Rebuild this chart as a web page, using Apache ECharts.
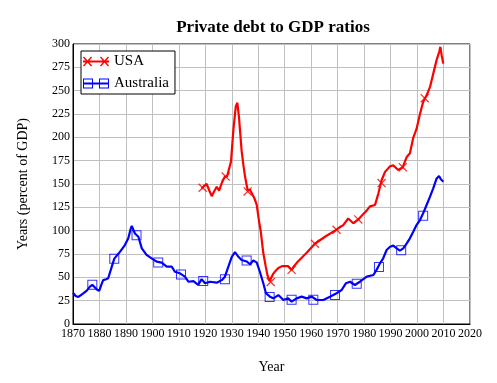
<!DOCTYPE html>
<html><head><meta charset="utf-8">
<script src="https://cdn.jsdelivr.net/npm/echarts@6/dist/echarts.min.js"></script>
<style>html,body{margin:0;padding:0;background:#fff}#c{width:497px;height:383px}</style>
</head><body><div id="c"></div>
<script>
const titleText = 'Private debt to GDP ratios';
const xTicks = [1870, 2020, 10];
const yTicks = [0, 300, 25];
const usa = [[1918.6,145],[1919.5,148],[1920.5,150],[1921.5,143],[1922.4,137],[1923.3,142],[1924.3,147],[1925.2,143],[1926.2,151],[1927.4,158],[1928.2,158],[1928.9,160],[1929.7,174],[1930.6,208],[1931.5,233],[1932.1,237],[1932.7,222],[1933.7,186],[1934.4,170],[1935,158],[1936,143],[1936.8,144],[1937.5,143],[1938.5,135],[1939.4,128],[1940.3,110],[1940.9,100],[1941.9,76],[1942.8,62],[1943.5,52],[1944.3,46],[1944.8,46],[1945.7,54],[1946.6,57],[1947.6,60],[1949,62],[1950,62],[1951.2,62],[1952.6,58],[1953.5,62],[1955,67],[1958.2,76],[1961.4,86],[1965.2,93.5],[1969,100],[1970.5,103],[1972.1,106],[1974,113],[1975.9,108],[1977.8,112],[1979.7,118],[1980.5,120],[1982.2,126],[1984.1,127.5],[1985.4,140],[1986.6,154],[1987.9,163],[1989.8,169],[1991,170],[1992.9,165],[1994.6,168],[1996.1,179],[1997.3,183],[1998.6,200],[1999.8,209],[2001.1,225],[2002.3,238],[2003.6,245],[2004.9,254],[2006.1,268],[2007.4,283],[2008.4,292],[2008.8,297],[2009.3,288],[2009.9,279]];
const australia = [[1870,33.5],[1871,30],[1872,29],[1873,31],[1874,33],[1875.2,35.7],[1876.4,40],[1877.3,42],[1878,41],[1879,37],[1879.9,35.5],[1880.7,42],[1881.4,47],[1882.5,48],[1883.3,49],[1884.6,61],[1885.6,70],[1886.3,72],[1887.8,77.5],[1889.6,84.6],[1890.9,91.8],[1891.8,102],[1892.2,105],[1893.4,97],[1894.7,93.5],[1896,81],[1897.8,74],[1899.7,70.4],[1901.6,66.8],[1903.5,65.7],[1905.4,61.4],[1907.3,61.4],[1908.5,56],[1910.4,54.3],[1912.3,50.7],[1913.6,45.3],[1915.5,46],[1917.3,42],[1918.6,48],[1919.9,43.6],[1921.8,45.3],[1924.3,44.3],[1926.2,47],[1927.4,50.7],[1928.7,61.4],[1930,72],[1931.2,77],[1932.5,72],[1933.7,68.6],[1935.6,67],[1936.9,64],[1938.1,68],[1939.4,66],[1940.6,56],[1941.9,43.6],[1942.9,33],[1944.4,29.3],[1945.7,27.5],[1947.6,31],[1949.5,25.7],[1951.3,27.5],[1952.6,24],[1954.5,27.5],[1956.4,29.3],[1958.3,27.5],[1960.2,29.3],[1962.1,25.7],[1964.6,25.7],[1967.1,29.3],[1969.6,33],[1971.5,36.4],[1973.1,43.6],[1974.7,45.3],[1976.5,41.8],[1978.4,45.3],[1981,50.7],[1983.5,52.5],[1984.7,58],[1986,65],[1987.2,70.4],[1988.5,79.3],[1989.8,82.8],[1991,84],[1992.3,81],[1993.5,78.6],[1994.8,81],[1996.1,86.4],[1997.3,91.8],[1998.6,99],[1999.8,106],[2001.1,111.4],[2002.3,118.6],[2003.6,127.5],[2004.9,136.4],[2006.1,145.4],[2007.4,156],[2008.3,158.6],[2009,155],[2009.9,152.5]];
const usaMarkers = [[1919,146],[1927.7,158],[1936,142],[1944.7,45],[1952.6,58],[1961.4,86],[1969.6,101],[1977.8,112],[1986.6,151],[1994.6,168],[2002.9,242]];
const ausMarkers = [[1877.3,42],[1885.6,70],[1894,95],[1902.2,66],[1910.8,53],[1919.2,46],[1927.4,48],[1935.6,68],[1944.3,29],[1952.6,26],[1960.8,26],[1969,31],[1977.2,43],[1985.6,61],[1994,79],[2002.3,116]];

const FONT = '"Liberation Serif","Times New Roman",serif';
const xPath = 'path://M0,1L1,0L10,9L9,10Z M9,0L10,1L1,10L0,9Z';
const sqPath = 'path://M0,0H10V1H0Z M0,9H10V10H0Z M0,0H1V10H0Z M9,0H10V10H9Z';
const usaIcon = 'path://M0,4H26V6H0Z M0,1L1,0L9,9L8,10Z M8,0L9,1L1,10L0,9Z M17,1L18,0L26,9L25,10Z M25,0L26,1L18,10L17,9Z';
const ausIcon = 'path://M0,4H26V6H0Z M0,0H10V1H0Z M0,9H10V10H0Z M0,0H1V10H0Z M9,0H10V10H9Z M16,0H26V1H16Z M16,9H26V10H16Z M16,0H17V10H16Z M25,0H26V10H25Z';

const chart = echarts.init(document.getElementById('c'));
chart.setOption({
  animation: false,
  backgroundColor: '#fff',
  title: { text: titleText, left: 268, textAlign: 'center', top: 14,
    textStyle: { fontFamily: FONT, fontSize: 17, fontWeight: 'bold', color: '#000' } },
  grid: { left: 73, right: 27, top: 44, bottom: 59, show: true, borderColor: '#000', borderWidth: 1, backgroundColor: 'transparent' },
  legend: {
    data: [{ name: 'USA', icon: usaIcon }, { name: 'Australia', icon: ausIcon }],
    orient: 'vertical', left: 81, top: 51, itemWidth: 26, itemHeight: 10, itemGap: 7,
    padding: [3, 6, 3, 2], borderColor: '#000', borderWidth: 1, backgroundColor: '#fff',
    textStyle: { fontFamily: FONT, fontSize: 15, color: '#000' }
  },
  xAxis: {
    type: 'value', min: xTicks[0], max: xTicks[1], interval: xTicks[2],
    name: 'Year', nameLocation: 'middle', nameGap: 36,
    nameTextStyle: { fontFamily: FONT, fontSize: 14, color: '#000' },
    axisLine: { lineStyle: { color: '#000' } }, axisTick: { show: false },
    axisLabel: { fontFamily: FONT, fontSize: 12, color: '#000', margin: 4, formatter: v => String(v) },
    splitLine: { lineStyle: { color: '#c0c0c0', width: 1 } }
  },
  yAxis: {
    type: 'value', min: yTicks[0], max: yTicks[1], interval: yTicks[2],
    name: 'Years (percent of GDP)', nameLocation: 'middle', nameGap: 43,
    nameTextStyle: { fontFamily: FONT, fontSize: 14, color: '#000' },
    axisLine: { show: true, lineStyle: { color: '#000' } }, axisTick: { show: false },
    axisLabel: { fontFamily: FONT, fontSize: 12, color: '#000', margin: 3 },
    splitLine: { lineStyle: { color: '#c0c0c0', width: 1 } }
  },
  series: [
    { name: 'USA', type: 'line', data: usa, showSymbol: false, symbol: 'none', color: '#ff0000',
      lineStyle: { color: '#ff0000', width: 2.2 }, z: 3 },
    { name: 'Australia', type: 'line', data: australia, showSymbol: false, symbol: 'none', color: '#0000ff',
      lineStyle: { color: '#0000ff', width: 2.2 }, z: 3 },
    { name: 'USA markers', type: 'scatter', data: usaMarkers, symbol: xPath, symbolSize: 9,
      itemStyle: { color: '#ff0000' }, silent: true, z: 4 },
    { name: 'Australia markers', type: 'scatter', data: ausMarkers, symbol: sqPath, symbolSize: 10,
      itemStyle: { color: '#0000ff' }, silent: true, z: 4 }
  ]
});
</script></body></html>
